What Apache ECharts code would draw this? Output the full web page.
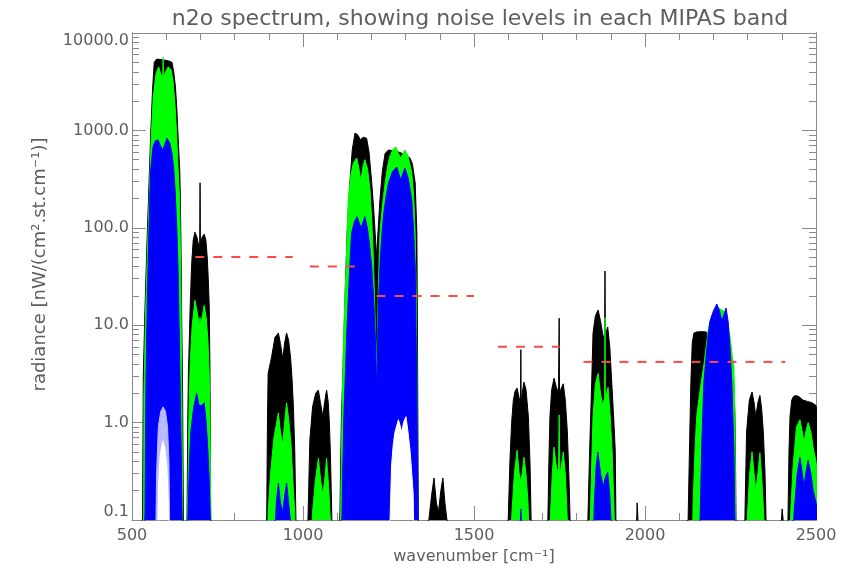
<!DOCTYPE html>
<html><head><meta charset="utf-8">
<script src="https://cdn.jsdelivr.net/npm/echarts@6/dist/echarts.min.js"></script>
<style>html,body{margin:0;padding:0;background:#fff}#c{width:846px;height:570px}</style>
</head><body><div id="c"></div>
<script>
const titleText = 'n2o spectrum, showing noise levels in each MIPAS band';
const xName = 'wavenumber [cm\u207B\u00B9]';
const yName = 'radiance [nW/(cm\u00B2.st.cm\u207B\u00B9)]';
const xMin = 500, xMax = 2500, xInterval = 500;
const yMajorTicks = [0.1, 1, 10, 100, 1000, 10000];
const yMinorMultipliers = [2, 3, 4, 5, 6, 7, 8, 9];

// [wavenumber, radiance] envelopes
const blackSpectrum = [
  [528,0.05],[531,0.12],[533,3],[538,15],[544,75],[550,300],[554,800],[560,2600],[565,5000],[572,5400],[590,5300],[605,5200],[617,5000],[622,4000],[627,2800],[631,1700],[636,700],[640,360],[643,80],[645,15],[648,2],[650,0.13],[652,0.05],
  [659,0.05],[661,0.12],[663,1],[665,3.2],[670,15],[674,40],[679,75],[684,90],[690,80],[696,63],[698,70],[699,290],[700,70],[705,80],[711,86],[716,75],[720,50],[723,30],[726,15],[728,3.2],[730,0.12],[732,0.05],
  [892,0.05],[894,0.12],[896,1],[898,3.2],[908,4.7],[918,7.5],[928,8.3],[934,6.5],[941,4.5],[946,6.5],[952,8.3],[958,7],[964,4.5],[968,2.8],[972,1.45],[976,0.5],[979,0.12],[981,0.05],
  [1012,0.05],[1015,0.12],[1020,0.66],[1028,1.45],[1037,2.0],[1045,2.16],[1051,1.6],[1058,1.15],[1063,1.6],[1069,2.16],[1074,1.6],[1077,1.0],[1080,0.5],[1084,0.12],[1086,0.05],
  [1105,0.05],[1108,0.12],[1112,1],[1117,3.7],[1123,20],[1129,88],[1137,290],[1144,630],[1152,940],[1160,900],[1168,800],[1176,850],[1186,830],[1193,600],[1201,290],[1207,150],[1211,88],[1215,50],[1220,100],[1225,194],[1232,380],[1240,580],[1250,630],[1262,620],[1280,600],[1300,560],[1313,520],[1320,450],[1328,290],[1333,88],[1335,5],[1337,0.12],[1339,0.05],
  [1365,0.05],[1368,0.1],[1376,0.18],[1383,0.27],[1390,0.15],[1396,0.12],[1403,0.2],[1409,0.27],[1415,0.15],[1421,0.1],[1424,0.05],
  [1597,0.05],[1600,0.1],[1605,0.4],[1610,1.0],[1615,1.7],[1620,2.1],[1626,2.26],[1632,1.8],[1636,1.5],[1637,5.6],[1638,1.5],[1641,2.0],[1646,2.6],[1652,2.2],[1659,1.15],[1664,0.36],[1667,0.1],[1670,0.05],
  [1713,0.05],[1716,0.1],[1719,0.4],[1722,1.15],[1727,2.16],[1734,2.86],[1741,2.3],[1747,2.0],[1748,2.0],[1749,11.8],[1750,2.0],[1754,2.2],[1761,2.5],[1767,1.7],[1773,0.8],[1778,0.25],[1781,0.1],[1784,0.05],
  [1830,0.05],[1833,0.1],[1838,0.5],[1844,2.5],[1848,8.3],[1855,12.5],[1863,14.3],[1870,11],[1878,7.5],[1882,8],[1883,36],[1884,8],[1891,9.6],[1897,6],[1903,2.5],[1908,1.2],[1913,0.52],[1915,0.1],[1918,0.05],
  [1973,0.05],[1976,0.11],[1977,0.15],[1979,0.11],[1981,0.05],
  [2122,0.05],[2126,0.1],[2130,0.52],[2134,2.5],[2138,6.5],[2143,8.3],[2150,8.5],[2165,8.6],[2180,8.5],[2186,8],[2200,8],[2230,8],[2245,6.5],[2249,5.6],[2257,4.1],[2261,2],[2263,1.15],[2265,0.3],[2266,0.1],[2269,0.05],
  [2289,0.05],[2292,0.1],[2297,0.8],[2305,1.7],[2313,2.06],[2319,1.6],[2324,1.15],[2330,1.6],[2336,1.9],[2341,1.4],[2346,0.8],[2351,0.3],[2354,0.1],[2357,0.05],
  [2396,0.05],[2399,0.1],[2401,0.13],[2404,0.1],[2406,0.05],
  [2415,0.05],[2418,0.1],[2421,0.5],[2424,1.15],[2429,1.7],[2434,1.85],[2440,1.9],[2450,1.85],[2462,1.7],[2475,1.65],[2488,1.6],[2500,1.5],[2510,1.0]
];
const greenSpectrum = [
  [531,0.05],[534,0.12],[535,2],[540,15],[546,70],[552,300],[556,800],[562,2200],[570,3800],[578,4500],[584,3800],[590,3500],[591,5600],[592,3500],[598,4000],[606,4500],[614,4200],[620,3200],[626,1800],[630,1000],[635,400],[639,200],[642,50],[644,10],[646,1.5],[648,0.12],[650,0.05],
  [661,0.05],[663,0.12],[666,1],[670,4],[676,10],[684,18],[690,14],[697,10],[699,12],[701,10],[705,12],[711,16],[717,12],[722,7],[726,3],[728,1],[730,0.12],[732,0.05],
  [896,0.05],[898,0.12],[905,0.3],[915,0.7],[928,1.26],[934,0.8],[941,0.6],[946,1.0],[952,1.6],[958,1.1],[965,0.6],[972,0.2],[976,0.12],[978,0.05],
  [1022,0.05],[1028,0.12],[1036,0.25],[1045,0.43],[1052,0.25],[1058,0.18],[1063,0.25],[1069,0.43],[1075,0.22],[1080,0.1],[1082,0.05],
  [1108,0.05],[1110,0.12],[1115,2],[1120,10],[1127,50],[1132,194],[1140,350],[1147,460],[1157,520],[1163,420],[1169,300],[1175,420],[1181,500],[1189,400],[1196,245],[1201,120],[1205,59],[1210,15],[1215,3],[1218,10],[1221,30],[1225,88],[1232,170],[1240,290],[1247,420],[1254,540],[1263,640],[1272,675],[1279,580],[1286,520],[1292,580],[1298,630],[1306,560],[1312,460],[1318,365],[1324,200],[1328,88],[1331,20],[1333,3.7],[1335,0.12],[1337,0.05],
  [1606,0.05],[1611,0.12],[1618,0.3],[1626,0.52],[1632,0.3],[1637,0.25],[1641,0.3],[1646,0.44],[1652,0.3],[1658,0.15],[1662,0.05],
  [1720,0.05],[1724,0.12],[1729,0.3],[1734,0.56],[1741,0.35],[1747,0.3],[1749,1.2],[1751,0.3],[1755,0.35],[1761,0.5],[1767,0.3],[1772,0.12],[1776,0.05],
  [1838,0.05],[1842,0.2],[1848,1.15],[1855,2.5],[1863,3.2],[1870,2.0],[1876,1.5],[1882,1.8],[1883,12],[1884,1.8],[1892,2.3],[1898,1.2],[1904,0.5],[1909,0.15],[1912,0.05],
  [2138,0.05],[2141,0.16],[2146,0.5],[2151,1.15],[2161,2.16],[2167,3],[2173,4.1],[2180,6.5],[2186,9.6],[2196,12.7],[2205,14],[2215,15],[2230,14],[2240,12],[2250,7],[2256,4.5],[2260,3.7],[2263,1],[2265,0.1],[2267,0.05],
  [2296,0.05],[2300,0.12],[2306,0.3],[2313,0.5],[2319,0.3],[2324,0.2],[2330,0.3],[2336,0.49],[2342,0.25],[2348,0.1],[2351,0.05],
  [2422,0.05],[2426,0.12],[2433,0.36],[2443,0.9],[2453,1.07],[2460,0.8],[2465,0.62],[2470,0.8],[2477,1.0],[2485,0.8],[2492,0.55],[2500,0.4],[2510,0.2]
];
const blueSpectrum = [
  [535,0.05],[538,0.12],[540,1.5],[541,3],[545,20],[549,75],[554,365],[561,670],[568,780],[576,800],[583,700],[590,630],[596,720],[602,830],[610,750],[617,580],[622,400],[626,245],[631,100],[635,34],[640,3.2],[644,0.5],[646,0.13],[648,0.05],
  [662,0.05],[664,0.12],[668,0.4],[672,0.8],[680,1.4],[689,2.0],[696,1.5],[704,1.5],[711,1.6],[717,1.0],[722,0.5],[726,0.25],[729,0.1],[731,0.05],
  [915,0.05],[922,0.15],[928,0.24],[934,0.15],[940,0.12],[946,0.17],[952,0.24],[958,0.15],[963,0.1],[965,0.05],
  [1111,0.05],[1114,0.12],[1119,1],[1128,8.3],[1135,30],[1142,88],[1150,115],[1158,130],[1165,110],[1170,100],[1176,115],[1181,130],[1188,100],[1194,70],[1201,40],[1206,20],[1211,8.3],[1216,2],[1220,15],[1225,40],[1230,80],[1235,130],[1242,200],[1250,290],[1262,380],[1274,420],[1280,360],[1286,310],[1292,360],[1298,410],[1308,320],[1318,194],[1323,100],[1328,40],[1333,1.7],[1336,0.12],[1338,0.05],
  [1633,0.05],[1637,0.13],[1641,0.05],
  [1848,0.05],[1852,0.15],[1857,0.35],[1862,0.5],[1870,0.3],[1878,0.22],[1885,0.28],[1891,0.31],[1897,0.18],[1902,0.08],[1904,0.05],
  [2158,0.05],[2161,0.1],[2166,0.6],[2172,2.5],[2178,4.5],[2185,8],[2190,11],[2200,14],[2210,16.5],[2218,14],[2225,11],[2231,13],[2237,15],[2243,11],[2249,5.6],[2254,2.5],[2260,0.52],[2263,0.1],[2266,0.05],
  [2430,0.05],[2436,0.12],[2445,0.3],[2453,0.44],[2460,0.3],[2465,0.22],[2470,0.3],[2477,0.41],[2485,0.3],[2492,0.2],[2500,0.15],[2510,0.1]
];
// pale (weak-line) and empty regions inside the strong bands
const paleHole = [[569,0.05],[572,0.3],[577,0.9],[584,1.3],[591,1.45],[598,1.3],[604,0.9],[608,0.4],[611,0.05]];
const whiteHole = [
  [575,0.05],[577,0.2],[582,0.45],[590,0.65],[596,0.55],[602,0.35],[606,0.15],[608,0.05],
  [1252,0.05],[1256,0.15],[1259,0.36],[1264,0.6],[1269,0.8],[1279,1.07],[1285,0.9],[1289,0.8],[1294,1.0],[1301,1.15],[1307,0.8],[1313,0.52],[1318,0.3],[1322,0.19],[1325,0.05]
];
// MIPAS band limits and noise levels
const noiseRanges = [[685,970],[1020,1170],[1215,1500],[1570,1750],[1820,2410]];
const noiseLevels = [50, 40, 20, 6, 4.2];

const yMinorTicks = [];
yMajorTicks.slice(0, -1).forEach(d => yMinorMultipliers.forEach(m => yMinorTicks.push(+(d * m).toPrecision(3))));

// break the polyline between separate bands (two consecutive floor points)
function splitBands(data) {
  const out = [];
  data.forEach((p, i) => {
    if (i > 0 && p[1] <= 0.05 && data[i - 1][1] <= 0.05) out.push([p[0], null]);
    out.push(p);
  });
  return out;
}

const FONT = 'DejaVu Sans';
const AX = '#8a8a8a';
const TX = '#5e5e5e';

function yAx(pos, ticks, len, labels) {
  return {
    type: 'log', logBase: 10, min: 0.1, max: 10000, position: pos,
    axisLine: { show: true, lineStyle: { color: AX, width: 1 } },
    axisTick: { show: true, inside: true, length: len, customValues: ticks, lineStyle: { color: AX } },
    axisLabel: labels ? {
      show: true, customValues: yMajorTicks, color: TX, fontSize: 16, fontFamily: FONT, margin: 3,
      formatter: v => Number(v).toFixed(1),
      verticalAlignMinLabel: 'bottom', verticalAlignMaxLabel: 'top'
    } : { show: false },
    splitLine: { show: false },
    minorTick: { show: false }, minorSplitLine: { show: false }
  };
}
function xAx(pos, labels) {
  return {
    type: 'value', min: xMin, max: xMax, interval: xInterval, position: pos,
    axisLine: { show: true, onZero: false, lineStyle: { color: AX, width: 1 } },
    axisTick: { show: true, inside: true, length: 14, lineStyle: { color: AX } },
    minorTick: { show: true, splitNumber: 5, length: 7, lineStyle: { color: AX } },
    axisLabel: labels ? { show: true, color: TX, fontSize: 16, fontFamily: FONT, margin: 8,
      formatter: v => String(v) } : { show: false },
    splitLine: { show: false }, minorSplitLine: { show: false }
  };
}

const xAxes = [xAx('bottom', true), xAx('top', false)];
Object.assign(xAxes[0], { name: xName, nameLocation: 'middle', nameGap: 25,
  nameTextStyle: { color: TX, fontSize: 16, fontFamily: FONT } });
const yAxes = [yAx('left', yMajorTicks, 14, true), yAx('left', yMinorTicks, 7, false),
               yAx('right', yMajorTicks, 14, false), yAx('right', yMinorTicks, 7, false)];
Object.assign(yAxes[0], { name: yName, nameLocation: 'middle', nameGap: 83, nameRotate: 90,
  nameTextStyle: { color: TX, fontSize: 18, fontFamily: FONT, padding: [0, 0, 0, 24] } });

function areaSeries(data, color, z) {
  return {
    type: 'line', data: splitBands(data), xAxisIndex: 0, yAxisIndex: 0, symbol: 'none', showSymbol: false,
    silent: true, clip: true, animation: false, z: z, connectNulls: false,
    lineStyle: { color: color, width: 1 },
    areaStyle: { color: color, opacity: 1, origin: 'start' }
  };
}

const series = [
  areaSeries(blackSpectrum, '#000000', 2),
  areaSeries(greenSpectrum, '#00ff00', 3),
  areaSeries(blueSpectrum, '#0000ff', 4),
  areaSeries(paleHole, '#b9b9ff', 5),
  areaSeries(whiteHole, '#ffffff', 6)
];
noiseRanges.forEach((r, i) => {
  series.push({
    type: 'line', xAxisIndex: 0, yAxisIndex: 0, symbol: 'none', silent: true, animation: false, z: 10,
    data: [[r[0], noiseLevels[i]], [r[1], noiseLevels[i]]],
    lineStyle: { color: '#ff4848', width: 2, type: [9, 9] }
  });
});

const chart = echarts.init(document.getElementById('c'), null, { renderer: 'canvas' });
chart.setOption({
  animation: false,
  backgroundColor: '#ffffff',
  title: { text: titleText, left: 475, textAlign: 'center', top: 3,
    textStyle: { color: TX, fontSize: 22, fontWeight: 'normal', fontFamily: FONT } },
  grid: { left: 132, right: 30, top: 33, bottom: 50, containLabel: false },
  xAxis: xAxes,
  yAxis: yAxes,
  series: series
});
</script></body></html>
